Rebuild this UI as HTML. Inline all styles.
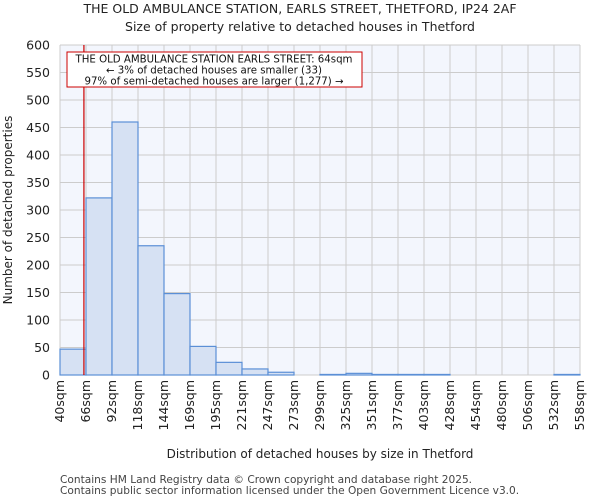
<!DOCTYPE html>
<html><head><meta charset="utf-8"><style>
body{margin:0;background:#fff;font-family:"DejaVu Sans","Liberation Sans",sans-serif}
svg text{font-family:"DejaVu Sans","Liberation Sans",sans-serif}
</style></head><body>
<svg id="chart" width="600" height="500" xmlns="http://www.w3.org/2000/svg">
<text x="300" y="13" text-anchor="middle" font-size="12.5" fill="#222">THE OLD AMBULANCE STATION, EARLS STREET, THETFORD, IP24 2AF</text>
<text x="300" y="31" text-anchor="middle" font-size="12.5" fill="#222">Size of property relative to detached houses in Thetford</text>
<rect x="60" y="45" width="520" height="330" fill="#f3f6fd"/>
<g id="grid"></g><g id="bars"></g><g id="axes"></g>
<text transform="translate(12,210) rotate(-90)" text-anchor="middle" font-size="12" fill="#222">Number of detached properties</text>
<text x="320" y="458" text-anchor="middle" font-size="12" fill="#222">Distribution of detached houses by size in Thetford</text>
<text x="60" y="483" font-size="10.6" fill="#444">Contains HM Land Registry data © Crown copyright and database right 2025.</text>
<text x="60" y="494" font-size="10.6" fill="#444">Contains public sector information licensed under the Open Government Licence v3.0.</text>
</svg>
<script>
const binLabels=["40sqm","66sqm","92sqm","118sqm","144sqm","169sqm","195sqm","221sqm","247sqm","273sqm","299sqm","325sqm","351sqm","377sqm","403sqm","428sqm","454sqm","480sqm","506sqm","532sqm","558sqm"];
const counts=[47,322,460,235,148,52,23,11,5,0,1,3,1,1,1,0,0,0,0,1];
const yTicks=[0,50,100,150,200,250,300,350,400,450,500,550,600];
const propertyIndex=0.92;
const NS="http://www.w3.org/2000/svg";
const X0=60,X1=580,Y0=375,Y1=45,YMAX=600;
const bw=(X1-X0)/counts.length;
const xs=i=>X0+i*bw, ys=v=>Y0-(v/YMAX)*(Y0-Y1);
function mk(tag,attrs,parent){const e=document.createElementNS(NS,tag);for(const k in attrs)e.setAttribute(k,attrs[k]);parent.appendChild(e);return e;}
const grid=document.getElementById('grid'),bars=document.getElementById('bars'),axes=document.getElementById('axes');
yTicks.forEach(t=>{
 const l=mk('line',{x1:X0,x2:X1,y1:ys(t),y2:ys(t),stroke:'#cccccc','stroke-width':1},grid);
 
 
 const tx=mk('text',{x:X0-10,y:ys(t)+4.5,'text-anchor':'end','font-size':12.5,fill:'#222'},axes);
 tx.textContent=t;
 
 
});
binLabels.forEach((b,i)=>{
 const l=mk('line',{x1:xs(i),x2:xs(i),y1:Y1,y2:Y0,stroke:'#cccccc','stroke-width':1},grid);
 
 
 const x=xs(i)+4;
 const tx=mk('text',{transform:`translate(${x},380) rotate(-90)`,'text-anchor':'end','font-size':12.5,fill:'#222'},axes);
 tx.textContent=b;
 
 
});
counts.forEach((c,i)=>{
 if(c<=0)return;
 const r=mk('rect',{x:xs(i),y:ys(c),width:bw,height:Y0-ys(c),fill:'#d6e1f3',stroke:'#5b8fd6','stroke-width':1.2},bars);
 
 
});
const px=xs(propertyIndex);
const pl=mk('line',{x1:px,x2:px,y1:Y1,y2:Y0,stroke:'#cc0000','stroke-width':1.2},axes);


const box=mk('rect',{x:67,y:52,width:295,height:35,fill:'#fff',stroke:'#cc0000','stroke-width':1},axes);


["THE OLD AMBULANCE STATION EARLS STREET: 64sqm","← 3% of detached houses are smaller (33)","97% of semi-detached houses are larger (1,277) →"].forEach((s,i)=>{
 const t=mk('text',{x:214,y:62.5+i*11,'text-anchor':'middle','font-size':10.2,fill:'#111'},axes);
 t.textContent=s;
 
 
});
</script>
</body></html>
